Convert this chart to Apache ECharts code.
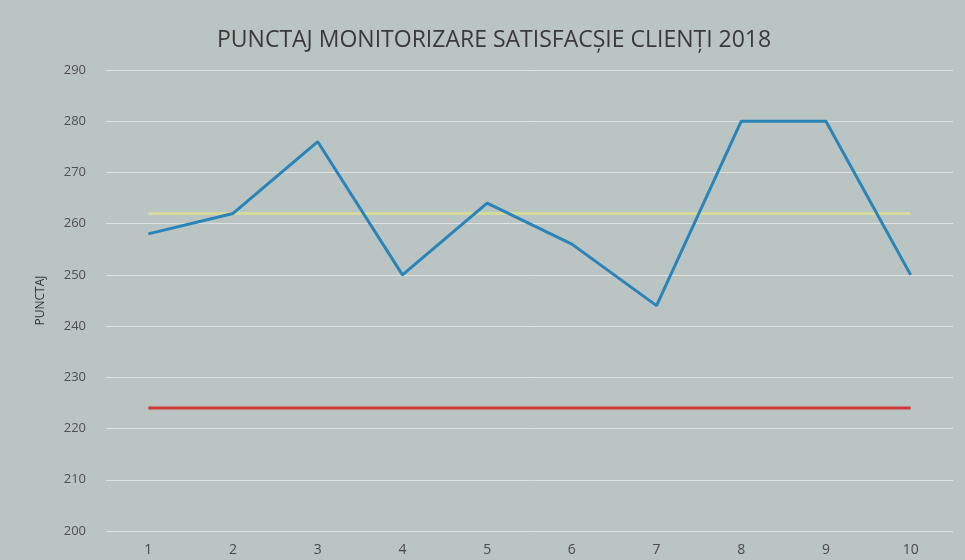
<!DOCTYPE html>
<html><head><meta charset="utf-8">
<script src="https://cdn.jsdelivr.net/npm/echarts@6/dist/echarts.min.js"></script>
<style>html,body{margin:0;padding:0;background:#bac4c2}#c{width:965px;height:560px}</style>
</head><body><div id="c"></div>
<script>
const categories = ['1','2','3','4','5','6','7','8','9','10'];
const scores = [258, 262, 276, 250, 264, 256, 244, 280, 280, 250];
const average = [262, 262, 262, 262, 262, 262, 262, 262, 262, 262];
const lowerLimit = [224, 224, 224, 224, 224, 224, 224, 224, 224, 224];
const title = 'PUNCTAJ MONITORIZARE SATISFACȘIE CLIENȚI 2018';
const yName = 'PUNCTAJ';

const chart = echarts.init(document.getElementById('c'), null, {renderer: 'canvas'});
const lineStyle = (c, w) => ({color: c, width: w});
chart.setOption({
  backgroundColor: '#bac4c2',
  animation: false,
  title: {text: title, left: 212, top: 24,
    textStyle: {fontFamily: 'Open Sans', fontWeight: 'normal', fontSize: 23, color: '#3a3a3a'}},
  grid: {left: 106, right: 12, top: 70, bottom: 29},
  xAxis: {type: 'category', data: categories, boundaryGap: true,
    axisLine: {show: false}, axisTick: {show: false},
    axisLabel: {color: '#4a4a4a', fontSize: 14, fontFamily: 'Open Sans', margin: 12},
    splitLine: {show: false}},
  yAxis: {type: 'value', min: 200, max: 290, interval: 10,
    name: yName, nameLocation: 'middle', nameGap: 59, nameRotate: 90,
    nameTextStyle: {color: '#333', fontSize: 12, fontFamily: 'Open Sans'},
    axisLine: {show: false}, axisTick: {show: false},
    axisLabel: {color: '#505050', fontSize: 13, fontFamily: 'Open Sans', margin: 20},
    splitLine: {lineStyle: {color: '#dde3e2', width: 1}}},
  series: [
    {type: 'line', data: average, symbol: 'none', lineStyle: lineStyle('#d3da9c', 3), z: 2},
    {type: 'line', data: lowerLimit, symbol: 'none', lineStyle: lineStyle('#cf3b3a', 3), z: 2},
    {type: 'line', data: scores, symbol: 'none', lineStyle: lineStyle('#2a84b8', 3), z: 3}
  ]
});
</script></body></html>
